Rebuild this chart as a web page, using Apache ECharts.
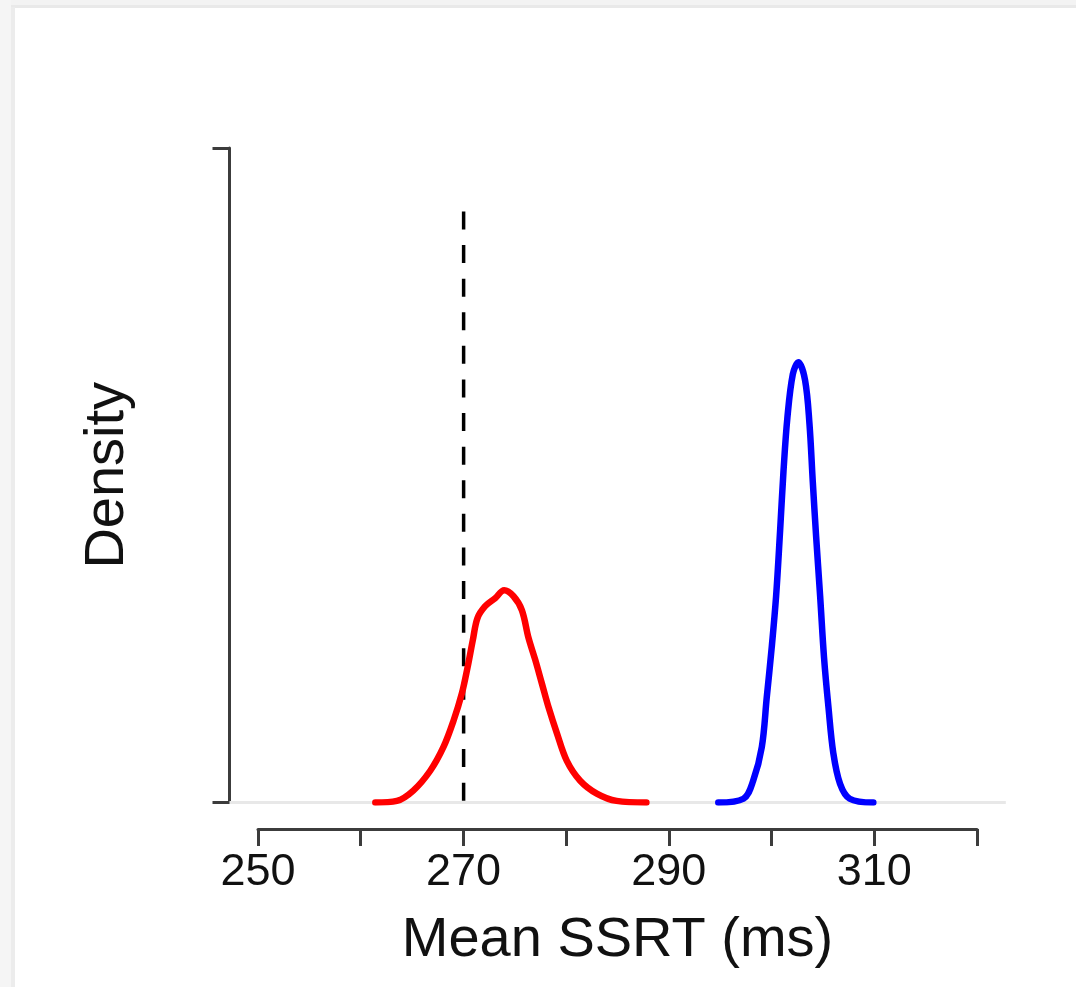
<!DOCTYPE html>
<html>
<head>
<meta charset="utf-8">
<title>Mean SSRT density</title>
<script src="https://cdn.jsdelivr.net/npm/echarts@6/dist/echarts.min.js"></script>
<style>
  html, body { margin: 0; padding: 0; background: #ffffff; }
  #chart { width: 1076px; height: 987px; }
</style>
</head>
<body>
<div id="chart"></div>
<script>
// Posterior density of mean SSRT, group A (red)
const redSSRT = [261.4, 263.5, 265.1, 266.75, 268.04, 269.0, 269.83, 270.38, 270.9, 271.35, 272.1, 273.07, 273.95, 274.86, 275.67, 276.32, 276.97, 277.62, 278.27, 279.08, 280.05, 281.35, 282.97, 284.9, 287.8];
const redDensity = [0.0, 0.0008, 0.006, 0.016, 0.028, 0.041, 0.055, 0.068, 0.082, 0.093, 0.099, 0.103, 0.107, 0.104, 0.097, 0.083, 0.072, 0.060, 0.048, 0.035, 0.021, 0.011, 0.0045, 0.0008, 0.0];

// Posterior density of mean SSRT, group B (blue)
const blueSSRT = [294.8, 297.25, 298.2, 299.04, 299.52, 300.0, 300.43, 300.82, 301.15, 301.53, 302.06, 302.6, 303.25, 303.68, 304.0, 304.33, 304.72, 305.1, 305.53, 306.0, 306.66, 307.6, 309.9];
const blueDensity = [0.0, 0.0019, 0.011, 0.028, 0.053, 0.078, 0.104, 0.137, 0.167, 0.194, 0.216, 0.222, 0.213, 0.191, 0.162, 0.134, 0.104, 0.073, 0.048, 0.025, 0.0094, 0.0019, 0.0];

// Reference value (dashed line), drawn from its top end down to zero
const referenceSSRT = 270;
const referenceTop = 0.298;

// Axis ranges and tick labels
const plotRange = [247.2, 322.8];
const axisRange = [250, 320];
const tickStep = 10;
const labelledTicks = [250, 270, 290, 310];
const densityRange = [0, 0.33];

const pairs = (xs, ys) => xs.map((x, i) => [x, ys[i]]);

const chart = echarts.init(document.getElementById('chart'), null, { renderer: 'canvas' });
const axisColor = '#3c3c3c';
const fontFamily = '"Liberation Sans", Arial, Helvetica, sans-serif';

chart.setOption({
  backgroundColor: '#ffffff',
  animation: false,
  graphic: [
    { type: 'rect', left: 0, top: 0, shape: { width: 1076, height: 5 }, style: { fill: '#f3f3f3' }, silent: true },
    { type: 'rect', left: 0, top: 5, shape: { width: 1076, height: 3 }, style: { fill: '#e9e9e9' }, silent: true },
    { type: 'rect', left: 0, top: 0, shape: { width: 11, height: 987 }, style: { fill: '#f5f5f5' }, silent: true },
    { type: 'rect', left: 11, top: 7, shape: { width: 4, height: 980 }, style: { fill: '#ececec' }, silent: true }
  ],
  grid: [
    { left: 229.5, right: 1076 - 1005.8, top: 148, bottom: 987 - 802.5, containLabel: false },
    { left: 258, right: 1076 - 977, top: 800, bottom: 987 - 829, containLabel: false }
  ],
  xAxis: [
    {
      type: 'value', gridIndex: 0, min: plotRange[0], max: plotRange[1], show: false
    },
    {
      type: 'value', gridIndex: 1, min: axisRange[0], max: axisRange[1], interval: tickStep,
      position: 'bottom',
      axisLine: { show: true, lineStyle: { color: axisColor, width: 3 } },
      axisTick: { show: true, inside: false, length: 17, lineStyle: { color: axisColor, width: 3 } },
      splitLine: { show: false },
      axisLabel: {
        show: true, margin: 21, fontSize: 45, color: '#111111', fontFamily: fontFamily,
        formatter: v => labelledTicks.includes(Math.round(v)) ? String(Math.round(v)) : ''
      },
      name: 'Mean SSRT (ms)', nameLocation: 'middle', nameGap: 84,
      nameTextStyle: { fontSize: 56, color: '#111111', fontFamily: fontFamily }
    }
  ],
  yAxis: [
    {
      type: 'value', gridIndex: 0, min: densityRange[0], max: densityRange[1], interval: densityRange[1],
      axisLine: { show: true, lineStyle: { color: axisColor, width: 3 } },
      axisTick: { show: true, inside: false, length: 17, lineStyle: { color: axisColor, width: 3 } },
      axisLabel: { show: false },
      splitLine: { show: false },
      name: 'Density', nameLocation: 'middle', nameGap: 94, nameRotate: 90,
      nameTextStyle: { fontSize: 56, color: '#111111', fontFamily: fontFamily }
    },
    { type: 'value', gridIndex: 1, min: 0, max: 1, show: false }
  ],
  series: [
    {
      name: 'baseline', type: 'line', xAxisIndex: 0, yAxisIndex: 0,
      data: [[plotRange[0], 0], [plotRange[1], 0]],
      symbol: 'none', silent: true, z: 1,
      lineStyle: { color: '#e8e8e8', width: 3 }
    },
    {
      name: 'reference', type: 'line', xAxisIndex: 0, yAxisIndex: 0,
      data: [[referenceSSRT, referenceTop], [referenceSSRT, 0]],
      symbol: 'none', silent: true, z: 2,
      lineStyle: { color: '#000000', width: 3.5, type: [18, 15.6] }
    },
    {
      name: 'red', type: 'line', xAxisIndex: 0, yAxisIndex: 0,
      data: pairs(redSSRT, redDensity),
      symbol: 'none', smooth: 0.35, z: 3,
      lineStyle: { color: '#ff0000', width: 6.5, cap: 'round', join: 'round' }
    },
    {
      name: 'blue', type: 'line', xAxisIndex: 0, yAxisIndex: 0,
      data: pairs(blueSSRT, blueDensity),
      symbol: 'none', smooth: 0.35, z: 3,
      lineStyle: { color: '#0000ff', width: 6.5, cap: 'round', join: 'round' }
    }
  ]
});
</script>
</body>
</html>
